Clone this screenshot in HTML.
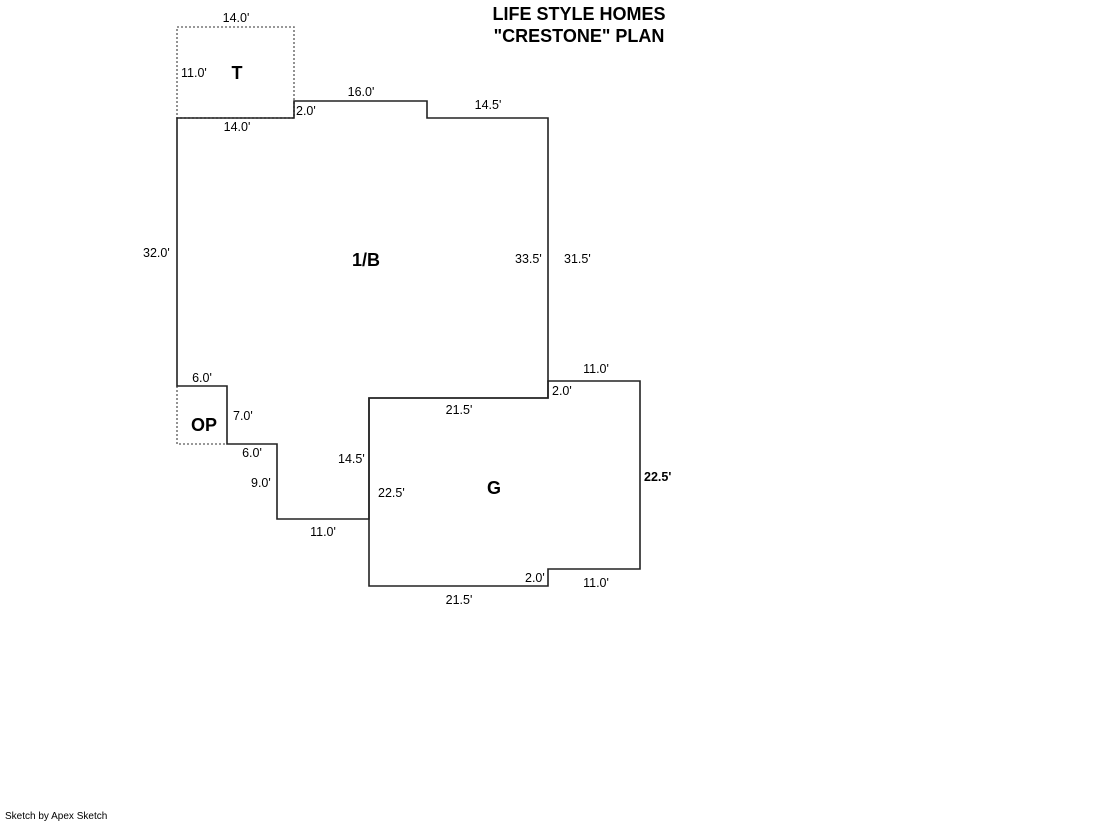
<!DOCTYPE html>
<html><head><style>
html,body{margin:0;padding:0;background:#fff;}
svg{display:block;}
text{font-family:"Liberation Sans",Arial,sans-serif;fill:#000;}
.d{font-size:12.5px;}
.b{font-size:18px;font-weight:bold;}
</style></head><body>
<svg width="1119" height="821" viewBox="0 0 1119 821">
<g fill="none" stroke-width="1.6">
<rect x="177" y="27" width="117" height="91" stroke="#777" stroke-dasharray="2,2"/>
<polyline points="177,386 177,444 227,444" stroke="#777" stroke-dasharray="2,2"/>
<polygon points="177,118 294,118 294,101 427,101 427,118 548,118 548,398 369,398 369,519 277,519 277,444 227,444 227,386 177,386" stroke="#222"/>
<polygon points="369,398 548,398 548,381 640,381 640,569 548,569 548,586 369,586" stroke="#222"/>
</g>
<text x="579" y="20" class="b" text-anchor="middle">LIFE STYLE HOMES</text>
<text x="579" y="42" class="b" text-anchor="middle">"CRESTONE" PLAN</text>
<text x="236" y="22" class="d" text-anchor="middle">14.0'</text>
<text x="181" y="77" class="d">11.0'</text>
<text x="237" y="79" class="b" text-anchor="middle">T</text>
<text x="237" y="131" class="d" text-anchor="middle">14.0'</text>
<text x="296" y="115" class="d">2.0'</text>
<text x="361" y="96" class="d" text-anchor="middle">16.0'</text>
<text x="488" y="109" class="d" text-anchor="middle">14.5'</text>
<text x="143" y="257" class="d">32.0'</text>
<text x="366" y="266" class="b" text-anchor="middle">1/B</text>
<text x="515" y="263" class="d">33.5'</text>
<text x="564" y="263" class="d">31.5'</text>
<text x="202" y="382" class="d" text-anchor="middle">6.0'</text>
<text x="233" y="420" class="d">7.0'</text>
<text x="204" y="431" class="b" text-anchor="middle">OP</text>
<text x="252" y="457" class="d" text-anchor="middle">6.0'</text>
<text x="251" y="487" class="d">9.0'</text>
<text x="338" y="463" class="d">14.5'</text>
<text x="378" y="497" class="d">22.5'</text>
<text x="323" y="536" class="d" text-anchor="middle">11.0'</text>
<text x="459" y="414" class="d" text-anchor="middle">21.5'</text>
<text x="552" y="395" class="d">2.0'</text>
<text x="596" y="373" class="d" text-anchor="middle">11.0'</text>
<text x="494" y="494" class="b" text-anchor="middle">G</text>
<text x="644" y="481" class="d" style="font-weight:bold">22.5'</text>
<text x="525" y="582" class="d">2.0'</text>
<text x="596" y="587" class="d" text-anchor="middle">11.0'</text>
<text x="459" y="604" class="d" text-anchor="middle">21.5'</text>
<text x="5" y="819" style="font-size:10px">Sketch by Apex Sketch</text>
</svg>
</body></html>
